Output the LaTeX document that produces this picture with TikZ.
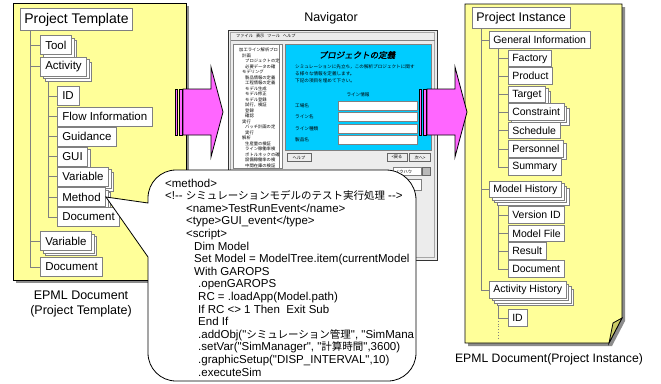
\documentclass[tikz,border=0pt]{standalone}
\usepackage{fontspec}
\usetikzlibrary{shadows}

\newfontfamily\arial{Liberation Sans}
\newfontfamily\jp{Noto Sans CJK JP}
\newfontfamily\jptitle{Noto Sans CJK JP}[FakeSlant=0.2,FakeBold=1.5]
\newcommand{\fsz}[1]{\fontsize{#1}{#1}\selectfont}
\newcommand{\cj}[1]{{\jp\fontsize{10.5}{12.6}\selectfont #1}}

\definecolor{memoyellow}{RGB}{255,255,153}
\definecolor{foldyellow}{RGB}{204,204,102}
\definecolor{arrowpink}{RGB}{255,102,255}
\definecolor{formblue}{RGB}{0,204,255}
\definecolor{winface}{RGB}{236,236,236}

\pgfdeclarelayer{paper}
\pgfdeclarelayer{links}
\pgfsetlayers{paper,links,main}

\begin{document}
\begin{tikzpicture}[x=1pt, y=-1pt,
  paper/.style={fill=memoyellow, draw=black, line width=0.8pt},
  papershade/.style={fill=black!45, draw=none},
  item/.style={draw=gray, fill=white, line width=0.6pt, anchor=west,
               inner xsep=5pt, inner ysep=0pt, minimum height=19pt,
               font=\arial\fsz{11.5}},
  ritem/.style={item, inner xsep=4pt, minimum height=16.5pt, font=\arial\fsz{10.5}},
  stk1/.style={copy shadow={shadow xshift=2.5pt, shadow yshift=-2.5pt, draw=gray, fill=white}},
  stk2/.style={copy shadow={shadow xshift=5pt, shadow yshift=-5pt, draw=gray, fill=white}, stk1},
  stk3/.style={copy shadow={shadow xshift=7.5pt, shadow yshift=-7.5pt, draw=gray, fill=white}, stk2},
  tree/.style={draw=gray, line width=0.8pt},
  bigarrow/.style={fill=arrowpink, draw=black, line width=0.8pt},
  jptext/.style={anchor=west, inner sep=0pt, font=\jp\fsz{#1}},
  field/.style={draw=gray, fill=white, line width=0.5pt, anchor=west,
                minimum width=79pt, minimum height=9pt, inner sep=0pt},
  btn/.style={draw=black!60, fill=winface, line width=0.4pt, minimum height=8pt,
              inner sep=0pt, font=\jp\fsz{4.2}},
  callout/.style={draw=black, fill=white, line width=0.8pt}
]
\useasboundingbox (0,0) rectangle (661,383);

% the two document sheets
\begin{pgfonlayer}{paper}
  \fill[white] (0,0) rectangle (661,383);
  \fill[papershade] (16,6) rectangle (189,283);
  \draw[paper] (13,3) rectangle (186,280);
  \fill[papershade] (468,7) -- (625,7) -- (625,321) -- (612,346) -- (468,346) -- cycle;
  \draw[paper] (465,4) -- (622,4) -- (622,318) -- (609,343) -- (465,343) -- cycle;
  \draw[fill=foldyellow, line width=0.8pt] (622,318) -- (609,343) -- (613,323) -- cycle;
\end{pgfonlayer}

% template tree
\node[item, minimum height=22pt, inner xsep=4pt, font=\arial\fsz{14}] (ptmpl) at (20,19.5) {Project Template};
\node[item, stk2] (tool) at (40,45) {Tool};
\node[item, stk2] (act)  at (40,66.5) {Activity};
\node[item] (id)         at (57,96) {ID};
\node[item] (flow)       at (57,116.5) {Flow Information};
\node[item] (guid)       at (57,136.5) {Guidance};
\node[item, stk1] (gui)  at (57,156.5) {GUI};
\node[item, stk2] (var1) at (57,176.5) {Variable};
\node[item, stk2] (meth) at (57,197) {Method};
\node[item] (doc1)       at (57,217) {Document};
\node[item, stk2] (var2) at (40,241) {Variable};
\node[item] (doc2)       at (40,267) {Document};
\node[align=center, font=\arial\fontsize{12.5}{15}\selectfont] (ltitle) at (81,304)
  {EPML Document\\(Project Template)};

% instance tree
\node[ritem, minimum height=21pt, font=\arial\fsz{12.5}] (pinst) at (472,18) {Project Instance};
\node[ritem] (geninfo)      at (489,40) {General Information};
\node[ritem] (fac)          at (508,58.5) {Factory};
\node[ritem] (prod)         at (508,76) {Product};
\node[ritem, stk2] (targ)   at (508,94.5) {Target};
\node[ritem, stk2] (cons)   at (508,112) {Constraint};
\node[ritem] (sched)        at (508,130.5) {Schedule};
\node[ritem, stk1] (pers)   at (508,149) {Personnel};
\node[ritem] (summ)         at (508,167) {Summary};
\node[ritem, stk3] (mhist)  at (489,189.5) {Model History};
\node[ritem] (ver)          at (508,215) {Version ID};
\node[ritem] (mfile)        at (508,233.5) {Model File};
\node[ritem] (res)          at (508,251) {Result};
\node[ritem] (rdoc)         at (508,269) {Document};
\node[ritem, stk3] (ahist)  at (489,290) {Activity History};
\node[ritem] (rid)          at (508,318) {ID};
\node[font=\arial\fsz{12.2}] (rtitle) at (549,359) {EPML Document(Project Instance)};

\coordinate (lt0) at ([xshift=10pt]ptmpl.south west);
\coordinate (lt1) at ([xshift=8pt]act.south west);
\coordinate (rt0) at ([xshift=9pt]pinst.south west);
\coordinate (rt1) at ([xshift=9pt]geninfo.south west);
\coordinate (rt2) at ([xshift=9pt]mhist.south west);
\coordinate (rt3) at ([xshift=9pt]ahist.south west);
\coordinate (rtend) at (498,338);

\begin{pgfonlayer}{links}
  \foreach \n in {tool,act,var2,doc2} \draw[tree] (lt0) |- (\n.west);
  \foreach \n in {id,flow,guid,gui,var1,meth,doc1} \draw[tree] (lt1) |- (\n.west);
  \foreach \n in {geninfo,mhist,ahist} \draw[tree] (rt0) |- (\n.west);
  \foreach \n in {fac,prod,targ,cons,sched,pers,summ} \draw[tree] (rt1) |- (\n.west);
  \foreach \n in {ver,mfile,res,rdoc} \draw[tree] (rt2) |- (\n.west);
  \draw[tree] (rt3) |- (rid.west);
  \draw[tree, dotted] (rid.west -| rt3) -- (rtend);
\end{pgfonlayer}

% navigator window
\node[font=\arial\fsz{12.5}] (navtitle) at (331,18) {Navigator};
\draw[fill=winface, draw=black!80, line width=1pt] (228,30) rectangle (437,260);
\draw[gray!70, line width=0.4pt] (230.5,32.5) rectangle (434.5,257.5);
\node[jptext=4.2] (menu) at (236,35.5) {ファイル\hspace{3pt}表示\hspace{3pt}ツール\hspace{3pt}ヘルプ};
\draw[gray, line width=0.4pt] (230.5,40) -- (434.5,40);

\draw[fill=white, draw=gray, line width=0.5pt] (233,44) rectangle (282,168);
\draw[gray, line width=0.4pt] (279,44) -- (279,168);
\foreach \t/\dx [count=\i] in {加工ライン解析プロ/0, 計画/3, プロジェクトの定/6, 必要データの確/6,
    モデリング/3, 製品情報の定義/6, 工程情報の定義/6, モデル生成/6, モデル修正/6, モデル登録/6,
    試行，検証/6, 登録/6, 確認/6, 実行/3, バッチ計画の定/6, 実行/6, 解析/3, 生産量の検証/6,
    ライン稼働率検/6, ボトルネックの確/6, 設備稼働率の検/6, 中間在庫の検証/6}
  \node[jptext=4.3] (pg\i) at (239+\dx,44.5+5.5*\i) {\t};

\draw[fill=formblue, draw=gray, line width=0.5pt] (285,44) rectangle (431,150);
\node[font=\jptitle\fsz{8.5}] (ftitle) at (357,55) {プロジェクトの定義};
\node[anchor=north west, align=left, inner sep=0pt, font=\jp\fontsize{4.6}{7}\selectfont] (fdesc) at (295,64)
  {シミュレーションに先立ち，この解析プロジェクトに関す\\る様々な情報を定義します。\\下記の項目を埋めて下さい。};
\node[font=\jp\fsz{4.6}] (fhead) at (358,95) {ライン情報};
\foreach \t/\y [count=\i] in {工場名/106, ライン名/117, ライン種類/128.5, 製品名/139.5} {
  \node[jptext=4.6] (flab\i) at (295,\y) {\t};
  \node[field] (fbox\i) at (338,\y) {};
}
\node[btn, minimum width=24pt] (bhelp) at (299,157.5) {ヘルプ};
\node[btn, minimum width=20pt] (bback) at (397,157.5) {<戻る};
\node[btn, minimum width=21pt] (bnext) at (420,157.5) {次へ>};
\node[field, minimum width=28pt, minimum height=8pt] (knack) at (393,171.5) {};
\node[jptext=4.2] (knacktxt) at (395,171.5) {ノウハウ};
\node[draw=black!60, fill=gray!55, minimum size=8pt, inner sep=0pt, anchor=west] (knackbtn) at (422,171.5) {};
\node[field, minimum width=33pt, minimum height=11pt] (notebox) at (388,185) {};

% striped block arrows
\draw[bigarrow] (175,89) rectangle (177.5,135);
\draw[bigarrow] (179,89) rectangle (182,135);
\draw[bigarrow] (183,89) -- (211,89) -- (211,67) -- (223,112) -- (211,157) -- (211,135) -- (183,135) -- cycle;
\draw[bigarrow] (419,89) rectangle (421.5,135);
\draw[bigarrow] (423,89) rectangle (426,135);
\draw[bigarrow] (427,89) -- (455,89) -- (455,67) -- (467,112) -- (455,157) -- (455,135) -- (427,135) -- cycle;

% method callout
\draw[callout] (148,257) -- (meth.east) -- (148,203) -- (148,198)
  arc[start angle=180, end angle=270, radius=28] -- (386,170)
  arc[start angle=270, end angle=360, radius=30] -- (416,353)
  arc[start angle=0, end angle=90, radius=28] -- (176,381)
  arc[start angle=90, end angle=180, radius=28] -- cycle;
\node[anchor=north west, align=left, inner sep=0pt, font=\arial\fontsize{11.5}{12.6}\selectfont] (code) at (165,178.5) {%
<method>\\
<!-- \cj{シミュレーションモデルのテスト実行処理} -->\\
\hspace*{21pt}<name>TestRunEvent</name>\\
\hspace*{21pt}<type>GUI\_event</type>\\
\hspace*{21pt}<script>\\
\hspace*{29pt}Dim Model\\
\hspace*{29pt}Set Model = ModelTree.item(currentModel\\
\hspace*{29pt}With GAROPS\\
\hspace*{33pt}.openGAROPS\\
\hspace*{33pt}RC = .loadApp(Model.path)\\
\hspace*{33pt}If RC <> 1 Then\ \ Exit Sub\\
\hspace*{33pt}End If\\
\hspace*{33pt}.addObj("\cj{シミュレーション管理}", "SimMana\\
\hspace*{33pt}.setVar("SimManager", "\cj{計算時間}",3600)\\
\hspace*{33pt}.graphicSetup("DISP\_INTERVAL",10)\\
\hspace*{33pt}.executeSim};
\end{tikzpicture}
\end{document}
